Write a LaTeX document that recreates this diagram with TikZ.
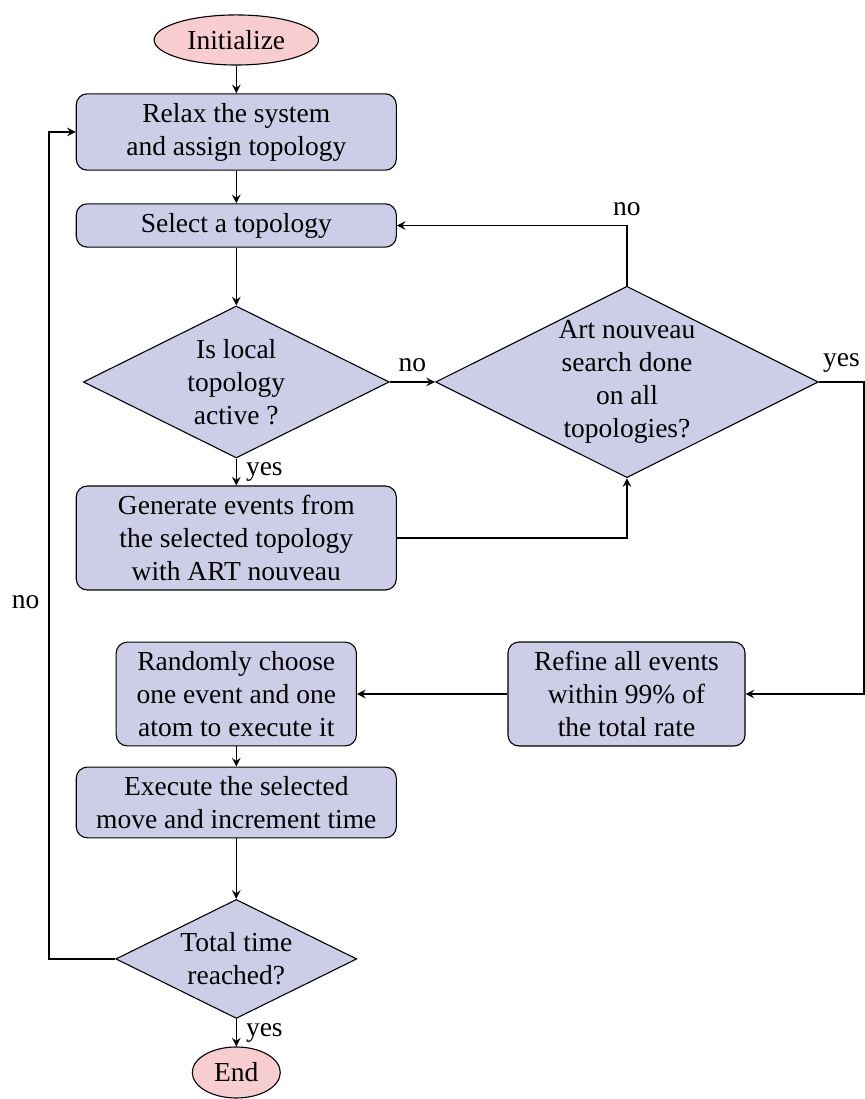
\documentclass[tikz,border=0pt]{standalone}
\usepackage{fontspec}
\setmainfont{Liberation Serif}
\usetikzlibrary{shapes.geometric,arrows}

\definecolor{procfill}{RGB}{205,205,231}
\definecolor{termfill}{RGB}{248,205,207}

\begin{document}
\begin{tikzpicture}[
    process/.style={rectangle,rounded corners,draw,fill=procfill,align=center,minimum width=4.09cm},
    decision/.style={diamond,draw,fill=procfill,align=center,aspect=2,inner sep=0pt},
    terminal/.style={ellipse,draw,fill=termfill,inner sep=1pt},
    flow/.style={-stealth}]
              \useasboundingbox (0,0) rectangle (11.055,-14.046);
              \node[terminal,minimum width=2.1cm,minimum height=0.64cm](init)at(3.02,-0.511){Initialize};
              \node[process](relax)at(3.02,-1.687){Relax the system\\and assign topology};
              \node[process,minimum height=0.55cm](select)at(3.02,-2.882){Select a topology};
              \node[decision,minimum width=3.91cm,minimum height=1.943cm](isloc)at(3.02,-4.882){Is local\\topology\\active ?};
              \node[decision,minimum width=4.882cm,minimum height=2.428cm](artdone)at(8.013,-4.882){Art nouveau\\search done\\on all\\topologies?};
              \node[process](gen)at(3.02,-6.876){Generate events from\\the selected topology\\with ART nouveau};
              \node[process,minimum width=3.07cm](random)at(3.02,-8.870){Randomly choose\\one event and one\\atom to execute it};
              \node[process,minimum width=3.03cm](refine)at(8.007,-8.870){Refine all events\\within 99\% of\\the total rate};
              \node[process](exec)at(3.02,-10.256){Execute the selected\\move and increment time};
              \node[decision,minimum width=3.08cm,minimum height=1.521cm](total)at(3.02,-12.256){Total time\\reached?};
              \node[terminal,minimum width=1.125cm,minimum height=0.652cm](end)at(3.02,-13.707){End};
              \coordinate(yesturn)at(11.042,-4.882);
              \coordinate(noturn)at(0.626,-12.256);
              % main line
              \draw[flow](init)--(relax);
              \draw[flow](relax)--(select);
              \draw[flow](select)--(isloc);
              \draw[flow](isloc)--node[right]{yes}(gen);
              \draw[flow](isloc)--node[above]{no}(artdone);
              \draw[flow](artdone.north)|-node[pos=0.5,above]{no}(select.east);
              \draw[flow](gen.east)-|(artdone.south);
              \draw[flow](artdone.east)--node[above]{yes}(yesturn)|-(refine.east);
              \draw[flow](refine)--(random);
              \draw[flow](random)--(exec);
              \draw[flow](exec)--(total);
              \draw[flow](total)--node[right]{yes}(end);
              % loop back
              \draw[flow](total.west)--(noturn)|-node[pos=0.216,left]{no}(relax.west);
            \end{tikzpicture}
\end{document}
